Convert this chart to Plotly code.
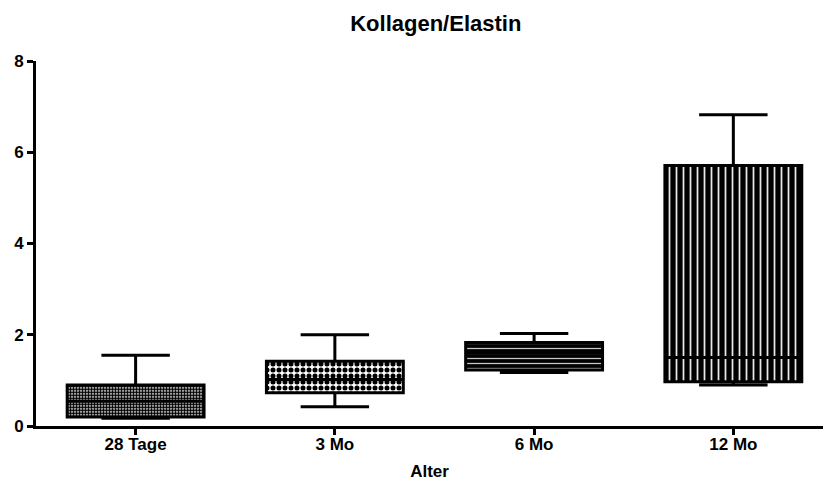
import plotly.graph_objects as go

# Age groups and box statistics (Kollagen/Elastin ratio)
categories = ["28 Tage", "3 Mo", "6 Mo", "12 Mo"]
lower_whisker = [0.17, 0.42, 1.17, 0.90]
q1 = [0.20, 0.73, 1.23, 0.97]
median = [0.54, 1.02, 1.60, 1.50]
q3 = [0.90, 1.42, 1.83, 5.71]
upper_whisker = [1.55, 2.00, 2.03, 6.82]

y_ticks = [0, 2, 4, 6, 8]

box_width = 0.687
font_family = "Liberation Sans, Arial, sans-serif"

# Hatched fills for each group, drawn as bars spanning q1..q3
pattern_shape = [".", ".", "-", "|"]
pattern_fg = ["black", "black", "#c8c8c8", "#e8e8e8"]
pattern_bg = ["white", "white", "black", "black"]
pattern_size = [3, 6, 5, 7]
pattern_solidity = [0.7, 0.55, 0.25, 0.25]

fig = go.Figure()

fig.add_trace(go.Bar(
    x=categories,
    y=[hi - lo for hi, lo in zip(q3, q1)],
    base=q1,
    width=box_width,
    marker=dict(
        color="white",
        line=dict(width=0),
        pattern=dict(
            shape=pattern_shape,
            fgcolor=pattern_fg,
            bgcolor=pattern_bg,
            size=pattern_size,
            solidity=pattern_solidity,
            fillmode="replace",
        ),
    ),
    showlegend=False,
    hoverinfo="skip",
))

fig.add_trace(go.Box(
    x=categories,
    q1=q1,
    median=median,
    q3=q3,
    lowerfence=lower_whisker,
    upperfence=upper_whisker,
    width=box_width,
    whiskerwidth=0.5,
    line=dict(color="black", width=3),
    fillcolor="rgba(0,0,0,0)",
    boxpoints=False,
    showlegend=False,
))

fig.update_layout(
    width=824,
    height=481,
    margin=dict(l=36, r=1, t=61, b=53),
    paper_bgcolor="white",
    plot_bgcolor="white",
    font=dict(family=font_family, color="black"),
    title=dict(
        text="Kollagen/Elastin",
        x=0.508,
        xref="paper",
        xanchor="center",
        y=1 - 23 / 481,
        yref="container",
        yanchor="middle",
        font=dict(family=font_family, size=22, weight="bold", color="black"),
    ),
    bargap=0,
)

fig.update_xaxes(
    type="category",
    range=[-0.5, 3.45],
    showline=True,
    linewidth=3,
    linecolor="black",
    ticks="outside",
    ticklen=6,
    tickwidth=3,
    tickcolor="black",
    showgrid=False,
    zeroline=False,
    ticklabelstandoff=-5,
    tickfont=dict(family=font_family, size=17, weight="bold"),
    title=dict(
        text="Alter",
        standoff=14,
        font=dict(family=font_family, size=17, weight="bold"),
    ),
)

fig.update_yaxes(
    range=[0, 8],
    tickvals=y_ticks,
    showline=True,
    linewidth=3,
    linecolor="black",
    ticks="outside",
    ticklen=6,
    tickwidth=3,
    tickcolor="black",
    showgrid=False,
    zeroline=False,
    tickfont=dict(family=font_family, size=17, weight="bold"),
)

fig.write_html("out.html")
